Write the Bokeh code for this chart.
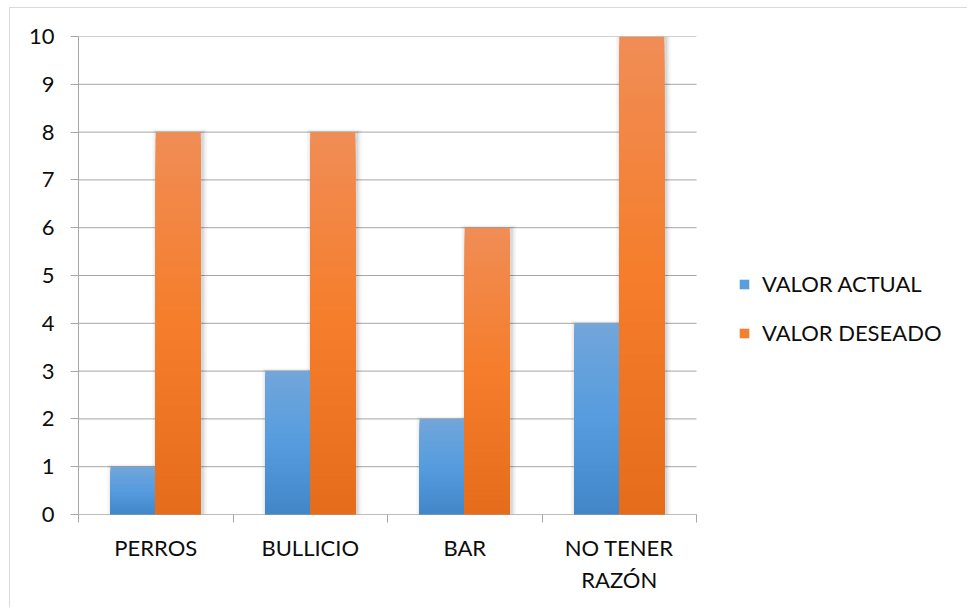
import numpy as np
from bokeh.plotting import figure
from bokeh.models import Range1d, FixedTicker, Legend, LegendItem
from bokeh.embed import file_html
from bokeh.resources import INLINE

# ---- data ----
categories = ["PERROS", "BULLICIO", "BAR", "NO TENER\nRAZÓN"]
valor_actual = [1, 3, 2, 4]
valor_deseado = [8, 8, 6, 10]
series_names = ["VALOR ACTUAL", "VALOR DESEADO"]
y_ticks = list(range(0, 11))

# ---- styling ----
FONT = "Lato"
TEXT = "#0d0d0d"
GRID = "#a6a6a6"
BLUE_STOPS = [(66, 134, 200), (86, 156, 222), (114, 166, 218)]     # bottom, mid, top
ORANGE_STOPS = [(228, 108, 26), (245, 125, 43), (240, 141, 86)]

MX, MY = 9, 7            # outer offset of the chart box
W, H = 968 - MX - 1, 608 - MY - 1
LEFT, RIGHT, TOP, BOTTOM = 68, 10, 28, 94
FRAME_W = W - LEFT - RIGHT
CAT_PX = 618 / len(categories)          # pixel width of one category slot
x_end = FRAME_W / CAT_PX

p = figure(width=W, height=H, output_backend="svg", toolbar_location=None,
           x_range=Range1d(0, x_end), y_range=Range1d(0, 10),
           min_border_left=LEFT, min_border_right=RIGHT, min_border_top=TOP,
           min_border_bottom=BOTTOM)
p.margin = (MY, 0, 0, MX)
p.outline_line_color = None
p.background_fill_color = "white"
p.border_fill_color = "white"
p.styles = {"border-left": "1px solid #d9d9d9", "border-top": "1px solid #d9d9d9"}

BW = 45 / CAT_PX
OFF = 22.5 / CAT_PX
NC = len(categories)


def grad(stops, t):
    if t <= 0.5:
        a, b, u = stops[0], stops[1], t / 0.5
    else:
        a, b, u = stops[1], stops[2], (t - 0.5) / 0.5
    c = [int(round(a[j] + (b[j] - a[j]) * u)) for j in range(3)]
    return "#%02x%02x%02x" % tuple(c)


# horizontal gridlines limited to the category area
p.xgrid.visible = False
p.ygrid.visible = False
p.segment(x0=[0] * len(y_ticks), x1=[NC] * len(y_ticks), y0=y_ticks, y1=y_ticks,
          line_color=GRID, line_width=1)

# shadows
for vals, off in [(valor_actual, -OFF), (valor_deseado, OFF)]:
    xs = [i + 0.5 + off + 1.5 / CAT_PX for i in range(len(vals))]
    for grow, alpha in [(10, 0.035), (6, 0.05), (3, 0.07)]:
        p.vbar(x=xs, top=[v + grow * 0.25 / 47.7 for v in vals], bottom=-1,
               width=BW + grow / CAT_PX, fill_color="#000000",
               fill_alpha=alpha, line_color=None)

legend_renderers = []
N = 60
for vals, stops, off in [(valor_actual, BLUE_STOPS, -OFF),
                         (valor_deseado, ORANGE_STOPS, OFF)]:
    xs, tops, cols = [], [], []
    for k in reversed(range(N)):
        frac = (k + 1) / N
        c = grad(stops, (k + 0.5) / N)
        for i, v in enumerate(vals):
            xs.append(i + 0.5 + off)
            tops.append(v * frac)
            cols.append(c)
    p.vbar(x=xs, top=tops, bottom=0, width=BW, fill_color=cols, line_color=None)
    lr = p.vbar(x=[0.5], top=[0], bottom=0, width=0.0, fill_color=grad(stops, 0.55),
                line_color=None)
    legend_renderers.append(lr)

# zero / category axis line
p.segment(x0=[0], x1=[NC], y0=[0], y1=[0], line_color=GRID, line_width=1)

# y axis
ya = p.yaxis[0]
ya.ticker = FixedTicker(ticks=y_ticks)
ya.axis_line_color = GRID
ya.major_tick_line_color = GRID
ya.major_tick_out = 8
ya.major_tick_in = 0
ya.minor_tick_line_color = None
ya.major_label_standoff = 16
ya.major_label_text_font = FONT
ya.major_label_text_font_size = "22px"
ya.major_label_text_color = TEXT

# x axis
xa = p.xaxis[0]
centers = [i + 0.5 for i in range(NC)]
xa.ticker = FixedTicker(ticks=centers, minor_ticks=list(range(NC + 1)))
xa.major_label_overrides = {c: lab for c, lab in zip(centers, categories)}
xa.axis_line_color = None
xa.major_tick_line_color = None
xa.major_tick_out = 0
xa.major_tick_in = 0
xa.minor_tick_line_color = GRID
xa.minor_tick_out = 8
xa.minor_tick_in = 0
xa.major_label_standoff = 11
xa.major_label_text_font = FONT
xa.major_label_text_font_size = "22px"
xa.major_label_text_color = TEXT

legend = Legend(items=[LegendItem(label=n, renderers=[r])
                       for n, r in zip(series_names, legend_renderers)],
                location=(660, 168), orientation="vertical")
legend.glyph_width = 12
legend.glyph_height = 12
legend.label_standoff = 12
legend.label_height = 25
legend.spacing = 22
legend.padding = 0
legend.margin = 0
legend.border_line_color = None
legend.background_fill_alpha = 0
legend.label_text_font = FONT
legend.label_text_font_size = "22px"
legend.label_text_color = TEXT
p.add_layout(legend, "center")

open("out.html", "w").write(file_html(p, INLINE))
